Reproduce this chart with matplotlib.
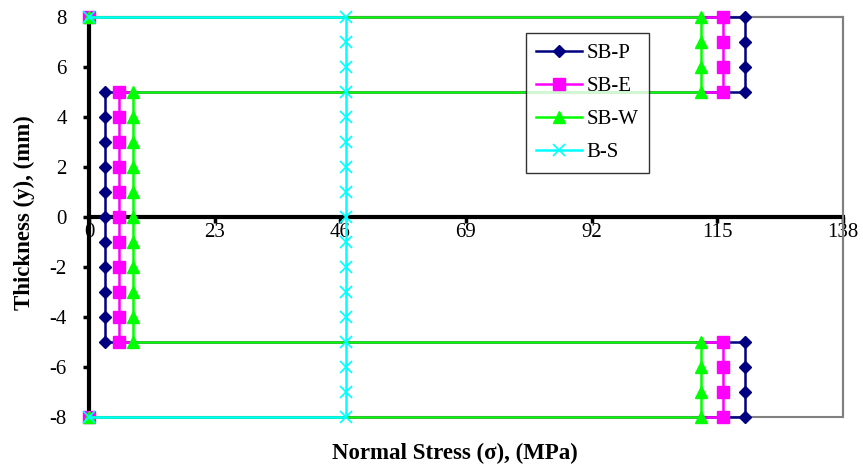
import matplotlib
matplotlib.use("Agg")
from matplotlib import pyplot as plt
from matplotlib.patches import Rectangle

plt.rcParams['font.family'] = ['Liberation Serif', 'DejaVu Serif']
plt.rcParams['axes.unicode_minus'] = False

# thickness levels (mm)
y_top = [8, 7, 6, 5]
y_core = [5, 4, 3, 2, 1, 0, -1, -2, -3, -4, -5]
y_bot = [-5, -6, -7, -8]
y_full = [8, 7, 6, 5, 4, 3, 2, 1, 0, -1, -2, -3, -4, -5, -6, -7, -8]

# stress in faces and core (MPa)
sbp_face, sbp_core = 120, 3
sbe_face, sbe_core = 116, 5.5
sbw_face, sbw_core = 112, 8
bs_stress = 47


def sandwich(face, core):
    xs = [0] + [face] * len(y_top) + [core] * len(y_core) + [face] * len(y_bot) + [0]
    ys = [8] + y_top + y_core + y_bot + [-8]
    return xs, ys


fig, ax = plt.subplots(figsize=(8.63, 4.68), dpi=100)
fig.subplots_adjust(left=0.1031, right=0.9768, top=0.9637, bottom=0.109)

x, y = sandwich(sbp_face, sbp_core)
ax.plot(x, y, color='#000080', marker='D', markersize=6, lw=1.8, label='SB-P', zorder=3, clip_on=False)
x, y = sandwich(sbe_face, sbe_core)
ax.plot(x, y, color='#FF00FF', marker='s', markersize=8, lw=1.8, label='SB-E', zorder=4, clip_on=False)
x, y = sandwich(sbw_face, sbw_core)
ax.plot(x, y, color='#00FF00', marker='^', markersize=8, lw=1.8, label='SB-W', zorder=5, clip_on=False)
ax.plot([0] + [bs_stress] * len(y_full) + [0], [8] + y_full + [-8],
        color='#00FFFF', marker='x', markersize=8, mew=1.2, lw=1.8, label='B-S', zorder=6, clip_on=False)

ax.set_xlim(0, 138)
ax.set_ylim(-8, 8)
ax.set_xticks([0, 23, 46, 69, 92, 115, 138])
ax.set_yticks([-8, -6, -4, -2, 0, 2, 4, 6, 8])

ax.spines['left'].set_position(('data', 0))
ax.spines['bottom'].set_position(('data', 0))
for s in ['left', 'bottom']:
    ax.spines[s].set_linewidth(3)
    ax.spines[s].set_color('black')
    ax.spines[s].set_zorder(2)
for s in ['top', 'right']:
    ax.spines[s].set_color('#808080')
    ax.spines[s].set_linewidth(1.5)
ax.add_patch(Rectangle((0, 0), 1, 1, transform=ax.transAxes, fill=False,
                       edgecolor='#808080', lw=1.5, zorder=1, clip_on=False))

ax.tick_params(axis='both', direction='out', length=4, width=2.5, labelsize=15)
ax.tick_params(axis='x', pad=0)
ax.tick_params(axis='y', pad=12)

ax.set_ylabel('Thickness (y), (mm)', fontsize=16.5, fontweight='bold')
ax.yaxis.set_label_coords(-0.072, 0.51)
ax.set_xlabel('Normal Stress (\u03c3), (MPa)', fontsize=16.5, fontweight='bold')
ax.xaxis.set_label_coords(0.485, -0.065)

leg = ax.legend(loc='upper left', bbox_to_anchor=(0.5796, 0.96), borderaxespad=0,
                fontsize=15, frameon=True, fancybox=False, edgecolor='black',
                handlelength=2.2, handletextpad=0.2, labelspacing=0.65, borderpad=0.5)
leg.get_frame().set_linewidth(1.0)

fig.savefig('out.png', dpi=100)
